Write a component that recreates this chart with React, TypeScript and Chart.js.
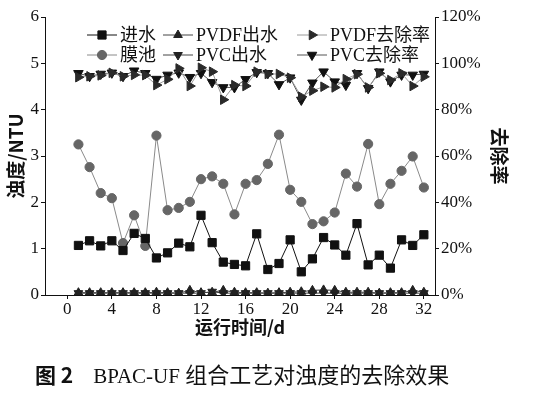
import React, { useEffect, useRef } from "react";
import { Chart, registerables } from "chart.js";
import { drawPoint } from "chart.js/helpers";

Chart.register(...registerables);

const days = [1,2,3,4,5,6,7,8,9,10,11,12,13,14,15,16,17,18,19,20,21,22,23,24,25,26,27,28,29,30,31,32];
const xTicks = [0,4,8,12,16,20,24,28,32];

const inflow = [1.07,1.17,1.06,1.17,0.96,1.33,1.22,0.80,0.91,1.12,1.04,1.72,1.13,0.71,0.66,0.63,1.32,0.55,0.68,1.19,0.50,0.78,1.24,1.08,0.86,1.54,0.65,0.86,0.58,1.19,1.07,1.30];
const tank = [3.25,2.76,2.20,2.09,1.12,1.72,1.06,3.44,1.83,1.88,2.01,2.50,2.56,2.40,1.74,2.40,2.48,2.83,3.46,2.27,2.01,1.53,1.59,1.78,2.62,2.34,3.26,1.96,2.40,2.68,2.99,2.32];
const pvdfOut = [0.05,0.05,0.05,0.05,0.05,0.05,0.05,0.06,0.05,0.04,0.10,0.05,0.06,0.10,0.06,0.05,0.05,0.04,0.05,0.06,0.07,0.10,0.11,0.10,0.06,0.06,0.06,0.04,0.05,0.05,0.10,0.06];
const pvcOut = [0.04,0.04,0.04,0.04,0.04,0.04,0.04,0.04,0.04,0.04,0.04,0.04,0.07,0.04,0.04,0.04,0.04,0.04,0.04,0.04,0.04,0.04,0.04,0.04,0.04,0.04,0.04,0.04,0.04,0.04,0.04,0.04];
const pvdfRate = [94.0,94.4,94.8,95.9,94.4,95.0,94.9,90.6,93.1,97.8,90.2,98.1,96.4,84.3,90.6,90.2,96.4,95.4,95.4,93.8,85.6,88.2,89.9,89.6,93.2,95.3,89.6,95.7,92.8,95.7,90.2,94.2];
const pvcRate = [95.7,94.4,95.4,95.9,94.4,96.8,95.7,93.2,95.0,95.9,94.0,95.7,91.8,89.6,89.6,93.1,96.1,95.7,90.9,93.8,84.2,91.6,96.4,92.1,90.6,95.7,89.2,96.4,92.1,95.0,95.0,95.4];

const labels = ["进水", "膜池", "PVDF出水", "PVC出水", "PVDF去除率", "PVC去除率"];

const pts = (arr: number[]) => arr.map((v, i) => ({ x: days[i], y: v }));

const SERIF = "'Liberation Serif', 'Times New Roman', 'Noto Sans CJK SC', serif";
const CJK = "'Noto Sans CJK SC', sans-serif";

const legendPlugin = {
  id: "customLegend",
  afterDatasetsDraw(chart: any) {
    const ctx = chart.ctx;
    const order = [0, 2, 4, 1, 3, 5];
    const cols = [87, 163, 297];
    const rows = [35, 55];
    ctx.save();
    order.forEach((di, k) => {
      const ds = chart.data.datasets[di];
      const x0 = cols[k % 3];
      const y = rows[Math.floor(k / 3)];
      ctx.strokeStyle = ds.borderColor;
      ctx.lineWidth = 1;
      ctx.beginPath();
      ctx.moveTo(x0, y);
      ctx.lineTo(x0 + 30, y);
      ctx.stroke();
      ctx.fillStyle = ds.pointBackgroundColor;
      ctx.strokeStyle = ds.pointBorderColor;
      drawPoint(ctx, { pointStyle: ds.pointStyle, rotation: ds.pointRotation || 0, radius: ds.pointRadius, borderWidth: 1 }, x0 + 15, y);
      ctx.fillStyle = "#111";
      ctx.font = `18px ${SERIF}`;
      ctx.textBaseline = "middle";
      ctx.textAlign = "left";
      ctx.fillText(ds.label, x0 + 33, y + 1);
    });
    ctx.restore();
  },
};

export default function App() {
  const ref = useRef<HTMLCanvasElement | null>(null);
  useEffect(() => {
    if (!ref.current) return;
    const mk = (label: string, data: number[], opts: any) => ({
      label,
      data: pts(data),
      borderWidth: 1,
      pointBorderWidth: 1,
      ...opts,
    });
    const chart = new Chart(ref.current, {
      type: "line",
      data: {
        datasets: [
          mk(labels[0], inflow, { yAxisID: "y", borderColor: "#111", pointStyle: "rect", pointRadius: 5.8, pointBackgroundColor: "#111", pointBorderColor: "#111" }),
          mk(labels[1], tank, { yAxisID: "y", borderColor: "#8a8a8a", pointStyle: "circle", pointRadius: 4.6, pointBackgroundColor: "#666", pointBorderColor: "#666" }),
          mk(labels[2], pvdfOut, { yAxisID: "y", borderColor: "#444", pointStyle: "triangle", pointRadius: 5, pointBackgroundColor: "#222", pointBorderColor: "#222" }),
          mk(labels[3], pvcOut, { yAxisID: "y", borderColor: "#444", pointStyle: "triangle", pointRotation: 180, pointRadius: 5, pointBackgroundColor: "#222", pointBorderColor: "#222" }),
          mk(labels[4], pvdfRate, { yAxisID: "y1", borderColor: "#9a9a9a", pointStyle: "triangle", pointRotation: 90, pointRadius: 5.5, pointBackgroundColor: "#2a2a2a", pointBorderColor: "#2a2a2a" }),
          mk(labels[5], pvcRate, { yAxisID: "y1", borderColor: "#555", pointStyle: "triangle", pointRotation: 180, pointRadius: 5.5, pointBackgroundColor: "#111", pointBorderColor: "#111" }),
        ],
      },
      options: {
        responsive: false,
        animation: false,
        devicePixelRatio: 1,
        layout: { padding: { top: 17, left: 0, right: 0, bottom: 0 } },
        plugins: { legend: { display: false }, tooltip: { enabled: false } },
        elements: { line: { tension: 0 } },
        scales: {
          x: {
            type: "linear",
            min: -2,
            max: 33,
            afterBuildTicks: (s: any) => { s.ticks = xTicks.map((v) => ({ value: v })); },
            afterFit: (s: any) => { s.height = 100; },
            grid: { drawOnChartArea: false, drawTicks: true, tickLength: 4, color: "#111" },
            border: { display: true, color: "#111", width: 1 },
            ticks: { color: "#111", font: { family: SERIF, size: 17 }, padding: 0, maxRotation: 0 },
            title: { display: true, text: "运行时间/d", color: "#111", font: { family: CJK, size: 18, weight: "bold" }, padding: { top: 0, bottom: 57 } },
          },
          y: {
            position: "left",
            min: 0,
            max: 6,
            ticks: { stepSize: 1, color: "#111", font: { family: SERIF, size: 17 }, padding: 2 },
            afterFit: (s: any) => { s.width = 45; },
            grid: { drawOnChartArea: false, drawTicks: true, tickLength: 4, color: "#111" },
            border: { display: true, color: "#111", width: 1 },
            title: { display: true, text: "浊度/NTU", color: "#111", font: { family: CJK, size: 19, weight: "bold" }, padding: { top: 4, bottom: 0 } },
          },
          y1: {
            position: "right",
            min: 0,
            max: 120,
            ticks: { stepSize: 20, color: "#111", font: { family: SERIF, size: 17 }, padding: 2, callback: (v: any) => v + "%" },
            afterFit: (s: any) => { s.width = 98; },
            grid: { drawOnChartArea: false, drawTicks: true, tickLength: 4, color: "#111" },
            border: { display: true, color: "#111", width: 1 },
            title: { display: true, text: "去除率", color: "#111", font: { family: CJK, size: 19, weight: "bold" }, padding: { top: 22, bottom: 0 } },
          },
        },
      },
      plugins: [legendPlugin],
    } as any);
    return () => chart.destroy();
  }, []);

  return (
    <div style={{ position: "absolute", left: 0, top: 0, width: 533, height: 395, background: "#fff" }}>
      <canvas ref={ref} width={533} height={395} style={{ position: "absolute", left: 0, top: 0 }} />
      <div style={{ position: "absolute", left: 35, top: 359, whiteSpace: "nowrap", color: "#111", lineHeight: "30px" }}>
        <span style={{ fontFamily: CJK, fontWeight: "bold", fontSize: 21 }}>图 2</span>
        <span style={{ display: "inline-block", width: 20 }} />
        <span style={{ fontFamily: SERIF, fontSize: 21 }}>BPAC-UF </span>
        <span style={{ fontFamily: SERIF, fontSize: 22 }}>组合工艺对浊度的去除效果</span>
      </div>
    </div>
  );
}
